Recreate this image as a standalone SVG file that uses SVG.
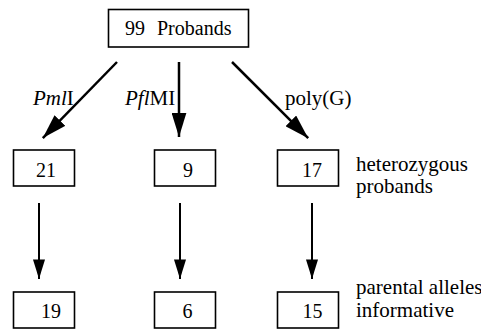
<svg xmlns="http://www.w3.org/2000/svg" width="481" height="331" viewBox="0 0 481 331" font-family="'Liberation Serif', 'DejaVu Serif', serif">
<defs>
<style>
.box{fill:#fff;stroke:#000;stroke-width:1.6}
text{font-family:'Liberation Serif','DejaVu Serif',serif;fill:#000}
.num{font-size:20px;text-anchor:middle}
.lab{font-size:21px}
.c1{stroke:#000;stroke-width:2.5;fill:none}
.c2{stroke:#000;stroke-width:2;fill:none}
</style>
<marker id="ah" markerUnits="strokeWidth" viewBox="0 0 9.8 6" markerWidth="9.8" markerHeight="6" refX="9.8" refY="3" orient="auto">
<path d="M0,0 L9.8,3 L0,6 z" fill="#000"/>
</marker>
</defs>
<rect width="481" height="331" fill="#fff"/>
<g id="connectors">
<line class="c1" x1="117" y1="62" x2="42.8" y2="138.1" marker-end="url(#ah)"/>
<line class="c1" x1="179" y1="62" x2="179" y2="137" marker-end="url(#ah)"/>
<line class="c1" x1="232" y1="62" x2="308.2" y2="138.2" marker-end="url(#ah)"/>
<line class="c2" x1="39" y1="203" x2="39" y2="279" marker-end="url(#ah)"/>
<line class="c2" x1="180" y1="203" x2="180" y2="279" marker-end="url(#ah)"/>
<line class="c2" x1="312" y1="203" x2="312" y2="279" marker-end="url(#ah)"/>
<text class="lab" x="33" y="105"><tspan font-style="italic">Pml</tspan>I</text>
<text class="lab" x="125" y="105"><tspan font-style="italic">Pfl</tspan>MI</text>
<text class="lab" x="285" y="105">poly(G)</text>
</g>
<g id="n-probands">
<rect class="box" x="108.5" y="9.5" width="140" height="37.5"/>
<text font-size="20" x="125" y="35">99<tspan x="157">Probands</tspan></text>
</g>
<g id="n-21">
<rect class="box" x="13.5" y="150" width="61" height="36"/>
<text class="num" x="46" y="177">21</text>
</g>
<g id="n-9">
<rect class="box" x="154.5" y="150" width="61" height="36"/>
<text class="num" x="188" y="177">9</text>
</g>
<g id="n-17">
<rect class="box" x="277.5" y="150" width="61" height="36"/>
<text class="num" x="312" y="177">17</text>
</g>
<g id="n-19">
<rect class="box" x="13.5" y="292" width="61" height="36"/>
<text class="num" x="51" y="318">19</text>
</g>
<g id="n-6">
<rect class="box" x="154.5" y="292" width="61" height="36"/>
<text class="num" x="187.5" y="318">6</text>
</g>
<g id="n-15">
<rect class="box" x="277.5" y="292" width="61" height="36"/>
<text class="num" x="312.5" y="318">15</text>
</g>
<g id="n-heterozygous">
<text class="lab" x="356" y="171">heterozygous</text>
<text class="lab" x="356" y="193">probands</text>
</g>
<g id="n-parental">
<text class="lab" x="356" y="294">parental alleles</text>
<text class="lab" x="356" y="317">informative</text>
</g>
</svg>
